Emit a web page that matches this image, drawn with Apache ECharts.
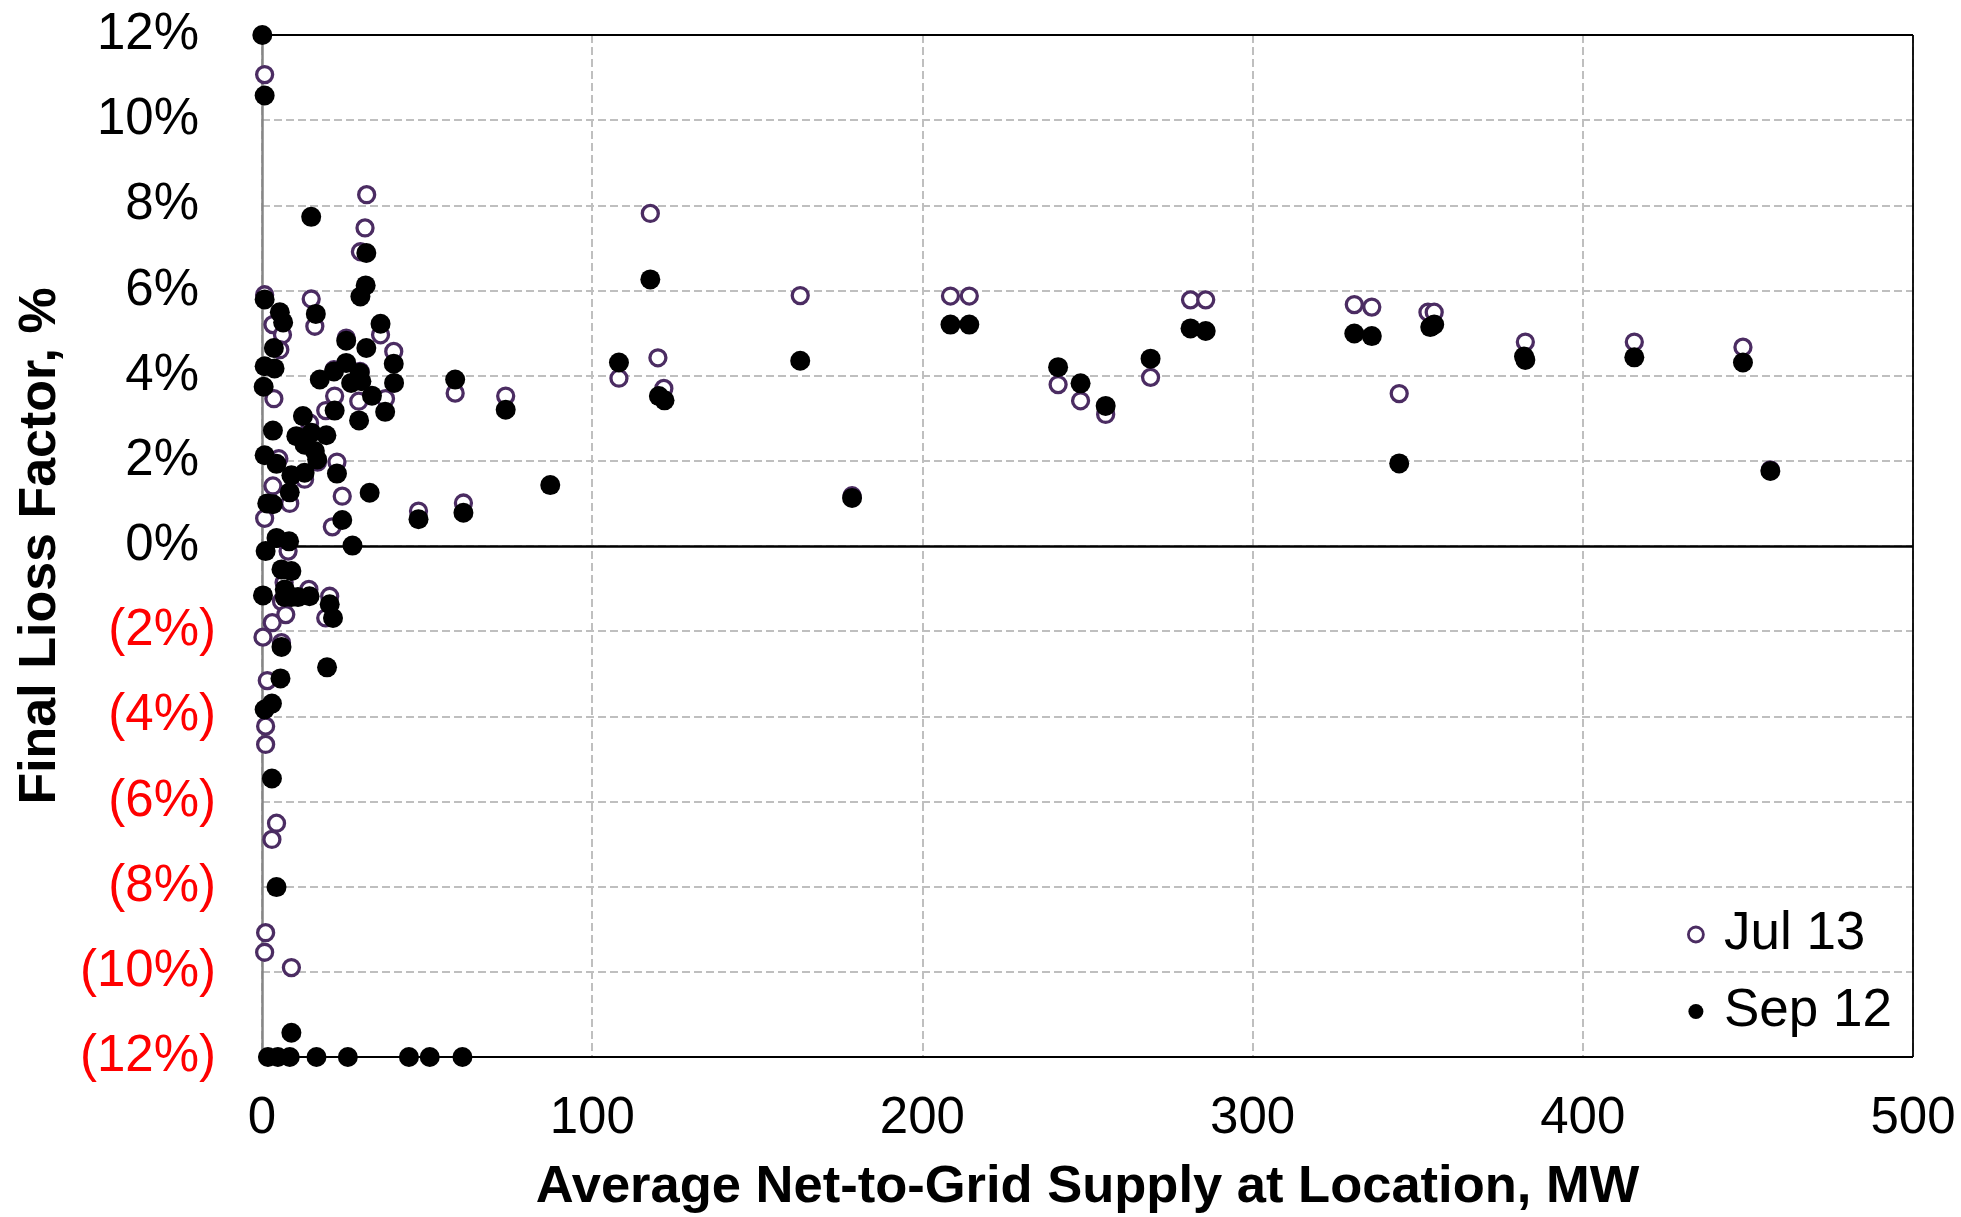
<!DOCTYPE html>
<html>
<head>
<meta charset="utf-8">
<script src="https://cdn.jsdelivr.net/npm/echarts@6/dist/echarts.min.js"></script>
<style>
html,body{margin:0;padding:0;background:#fff;}
#chart{width:1961px;height:1217px;}
</style>
</head>
<body>
<div id="chart"></div>
<script>
// Jul 13 series: [MW, loss factor %]
const julX = [0.8,31.7,31.2,29.8,0.8,14.9,3.3,16.0,35.9,6.2,25.5,39.9,5.4,21.8,29.7,3.6,22.0,29.3,37.4,19.3,14.4,16.8,5.1,22.7,12.9,3.3,8.4,24.3,0.8,21.3,47.4,7.9,6.7,14.2,5.9,20.5,19.3,7.2,3.1,0.3,5.9,1.6,1.1,1.1,4.4,3.0,1.1,0.8,8.9,58.5,73.8,61.0,108.1,117.6,119.9,121.7,163.0,178.7,208.5,214.2,241.1,247.9,255.5,269.1,281.2,285.8,330.8,336.1,344.4,353.1,355.0,382.6,415.6,448.5,456.8];
const julY = [11.07,8.25,7.47,6.91,5.90,5.80,5.20,5.16,4.96,4.96,4.88,4.57,4.61,4.14,4.10,3.46,3.52,3.40,3.46,3.18,2.89,1.97,2.05,1.97,1.57,1.41,1.00,1.17,0.65,0.45,0.82,-0.12,-0.86,-1.02,-1.30,-1.18,-1.69,-1.61,-1.80,-2.14,-2.27,-3.16,-4.23,-4.66,-6.51,-6.89,-9.08,-9.54,-9.90,3.59,3.52,1.01,3.94,7.81,4.42,3.70,5.88,1.18,5.87,5.87,3.79,3.41,3.09,3.96,5.78,5.78,5.67,5.61,3.58,5.49,5.49,4.79,4.79,4.67,1.79];
// Sep 12 series
const sepX = [0.1,0.8,14.9,31.6,31.4,29.8,0.8,5.4,16.3,35.9,6.4,25.5,31.6,3.6,39.9,0.8,3.8,25.5,21.8,17.5,29.6,27.0,30.1,40.0,0.5,33.3,22.0,37.3,12.4,29.4,3.3,10.4,15.0,19.5,12.9,16.0,16.7,0.8,4.4,22.7,8.9,12.9,8.4,32.6,1.6,3.3,24.3,47.4,4.4,8.2,27.4,1.1,5.9,8.9,0.3,6.9,6.9,8.9,10.9,14.4,20.5,21.5,5.9,19.7,5.6,3.0,0.8,3.0,4.4,8.9,1.8,4.8,8.4,16.5,26.0,44.5,50.8,60.7,58.5,73.8,61.0,87.3,108.1,117.6,120.2,121.9,163.0,178.7,208.5,214.2,241.1,247.9,255.5,269.1,281.2,285.8,330.8,336.1,344.4,353.8,355.0,382.2,382.6,415.6,448.5,456.8];
const sepY = [12.0,10.58,7.73,6.88,6.12,5.86,5.79,5.49,5.45,5.22,5.25,4.82,4.65,4.65,4.28,4.22,4.17,4.30,4.10,3.91,4.07,3.83,3.87,3.83,3.74,3.53,3.18,3.15,3.05,2.95,2.71,2.58,2.66,2.60,2.38,2.23,2.03,2.13,1.93,1.70,1.66,1.72,1.26,1.25,1.00,0.98,0.61,0.63,0.19,0.11,0.01,-0.12,-0.55,-0.59,-1.16,-1.02,-1.20,-1.20,-1.20,-1.18,-1.37,-1.69,-2.37,-2.85,-3.11,-3.70,-3.84,-5.46,-8.01,-11.43,-12,-12,-12,-12,-12,-12,-12,-12,3.91,3.20,0.78,1.43,4.31,6.26,3.52,3.42,4.35,1.13,5.20,5.20,4.20,3.82,3.29,4.40,5.11,5.05,4.99,4.93,1.94,5.14,5.20,4.45,4.37,4.43,4.31,1.76];
const seriesNames = ['Jul 13','Sep 12'];
const xTicks = {min:0, max:500, interval:100};
const yTicks = {min:-12, max:12, interval:2};
const xTitle = 'Average Net-to-Grid Supply at Location, MW';
const yTitle = 'Final Lioss Factor, %';

const FONT = '"Liberation Sans", Arial, sans-serif';
const PURPLE = '#4b2c62';
const zip = (a,b) => a.map((v,i)=>[v,b[i]]);

const chart = echarts.init(document.getElementById('chart'));
chart.setOption({
  animation:false,
  backgroundColor:'#fff',
  textStyle:{fontFamily:FONT},
  grid:{left:262, right:48, top:35, bottom:160, show:false, containLabel:false, outerBoundsMode:'none'},
  legend:{
    orient:'vertical', left:1682, top:903, itemGap:24, itemWidth:46, itemHeight:15,
    textStyle:{fontSize:53, color:'#000', fontFamily:FONT},
    data:[
      {name:seriesNames[0], icon:'circle', itemStyle:{color:'#fff', borderColor:PURPLE, borderWidth:2.8}},
      {name:seriesNames[1], icon:'circle', itemStyle:{color:'#000', borderWidth:0}}
    ]
  },
  xAxis:{
    type:'value', min:xTicks.min, max:xTicks.max, interval:xTicks.interval,
    axisLine:{show:false}, axisTick:{show:false},
    axisLabel:{fontSize:51, color:'#000', margin:36, fontFamily:FONT},
    splitLine:{show:true, lineStyle:{color:'#bfbfbf', width:2, type:[8,4]}},
    name:xTitle, nameLocation:'middle', nameGap:104,
    nameTextStyle:{fontSize:52.5, fontWeight:'bold', color:'#000', fontFamily:FONT}
  },
  yAxis:{
    type:'value', min:yTicks.min, max:yTicks.max, interval:yTicks.interval,
    axisLine:{show:true, onZero:false, lineStyle:{color:'#868686', width:2.5}},
    axisTick:{show:false},
    axisLabel:{
      margin:46, fontFamily:FONT,
      formatter:v => v < 0 ? '{n|(' + (-v) + '%)}' : '{p|' + v + '%}{h|)}',
      rich:{
        n:{fontSize:51, color:'#ff0000', fontFamily:FONT},
        p:{fontSize:51, color:'#000', fontFamily:FONT},
        h:{fontSize:51, color:'rgba(0,0,0,0)', fontFamily:FONT}
      }
    },
    splitLine:{show:true, lineStyle:{color:'#bfbfbf', width:2, type:[8,4]}},
    name:yTitle, nameLocation:'middle', nameGap:195, nameRotate:90,
    nameTextStyle:{fontSize:52, fontWeight:'bold', color:'#000', fontFamily:FONT}
  },
  series:[
    {
      name:seriesNames[0], type:'scatter', clip:false, symbol:'circle', symbolSize:16,
      itemStyle:{color:'#fff', borderColor:PURPLE, borderWidth:3.3, opacity:1},
      data:zip(julX, julY), z:3,
      markLine:{silent:true, symbol:'none', label:{show:false}, z:2,
        lineStyle:{color:'#000', width:1.8, type:'solid'},
        data:[
          {yAxis:yTicks.max},
          {yAxis:yTicks.min},
          {xAxis:xTicks.max},
          {yAxis:0, lineStyle:{width:2.5}}
        ]}
    },
    {
      name:seriesNames[1], type:'scatter', clip:false, symbol:'circle', symbolSize:20,
      itemStyle:{color:'#000', opacity:1},
      data:zip(sepX, sepY), z:4
    }
  ]
});
</script>
</body>
</html>
